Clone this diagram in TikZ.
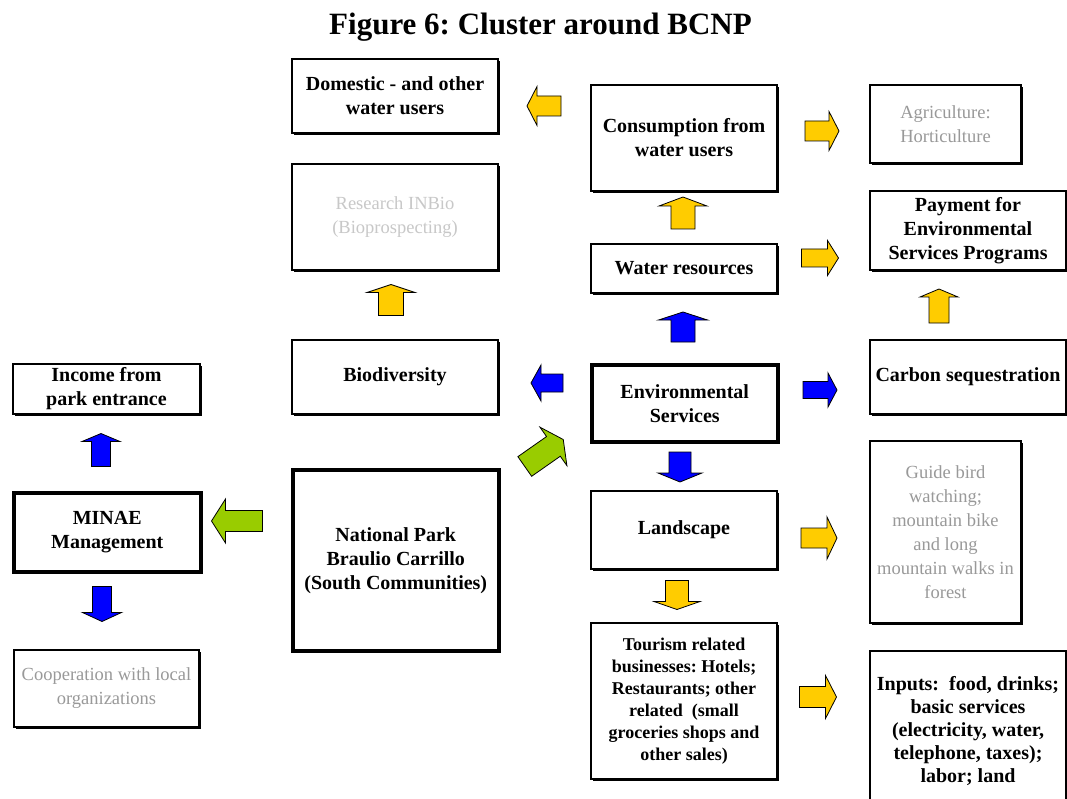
\documentclass[tikz,border=0pt]{standalone}
\usepackage{fontspec}
\setmainfont{Liberation Serif}
\usetikzlibrary{shadows}

\definecolor{jaune}{HTML}{FFCC00}
\definecolor{bleu}{HTML}{0000FF}
\definecolor{vert}{HTML}{99CC00}
\definecolor{gris}{HTML}{999999}
\definecolor{grisclair}{HTML}{C8C8C8}

\tikzset{
  boite/.style={draw, fill=white, line width=2pt, align=center, inner sep=2pt, anchor=north west,
    drop shadow={shadow xshift=2pt, shadow yshift=-2pt, opacity=1, fill=black},
    font=\fontsize{20}{24}\selectfont\bfseries},
  boiteg/.style={boite, line width=3.5pt},
  pale/.style={font=\fontsize{18.5}{24}\selectfont, text=gris},
  fleche/.style={draw=black, line width=0.8pt},
  pics/bloc/.style args={#1/#2/#3/#4}{code={%longueur/corps/tete/long. tete
    \path[pic actions] (-#1/2,-#2/2) -- (#1/2-#4,-#2/2) -- (#1/2-#4,-#3/2) -- (#1/2,0)
      -- (#1/2-#4,#3/2) -- (#1/2-#4,#2/2) -- (-#1/2,#2/2) -- cycle;}}
}

\begin{document}
\frenchspacing
\begin{tikzpicture}[x=1pt,y=-1pt]
\useasboundingbox (0,0) rectangle (1067,799);

\node[anchor=base, font=\fontsize{31}{36}\selectfont\bfseries] (titre) at (540.5,35) {Figure 6: Cluster around BCNP};

%colonne de gauche
\node[boite, minimum width=187pt, minimum height=50pt] (entree) at (12,363) {Income from\\park entrance};
\node[boiteg, minimum width=187pt, minimum height=79pt] (minae) at (12,491) {MINAE\\Management};
\node[boite, pale, minimum width=185pt, minimum height=77pt] (coop) at (13,649) {Cooperation with local\\organizations};

%colonne 2
\node[boite, minimum width=206pt, minimum height=74pt] (dom) at (291,58) {Domestic - and other\\water users};
\node[boite, pale, text=grisclair, minimum width=206pt, minimum height=106pt] (rech) at (291,163) {Research INBio\\(Bioprospecting)};
\node[boite, minimum width=206pt, minimum height=74pt] (bio) at (291,339) {Biodiversity};
\node[boiteg, minimum width=206pt, minimum height=181pt] (parc) at (291,468) {National Park\\Braulio Carrillo\\(South Communities)};

%colonne 3
\node[boite, minimum width=186pt, minimum height=106pt] (conso) at (590,84) {Consumption from\\water users};
\node[boite, minimum width=186pt, minimum height=49pt] (eau) at (590,243) {Water resources};
\node[boiteg, minimum width=186pt, minimum height=77pt] (env) at (590,363) {Environmental\\Services};
\node[boite, minimum width=186pt, minimum height=78pt] (paysage) at (590,490) {Landscape};
\node[boite, font=\fontsize{18}{22}\selectfont\bfseries, minimum width=186pt, minimum height=156pt] (tour) at (590,622) {Tourism related\\businesses: Hotels;\\Restaurants; other\\related\ \ (small\\groceries shops and\\other sales)};

%colonne de droite
\node[boite, pale, minimum width=151pt, minimum height=78pt] (agri) at (869,84) {Agriculture:\\Horticulture};
\node[boite, minimum width=196pt, minimum height=79pt] (paie) at (869,190) {Payment for\\Environmental\\Services Programs};
\node[boite, minimum width=196pt, minimum height=74pt] (carbone) at (869,339) {Carbon sequestration};
\node[boite, pale, minimum width=151pt, minimum height=182pt] (guide) at (869,440) {Guide bird\\watching;\\mountain bike\\and long\\mountain walks in\\forest};
\node[boite, font=\fontsize{20}{23}\selectfont\bfseries, minimum width=196pt, minimum height=160pt] (intrants) at (869,650) {Inputs:\ \ food, drinks;\\basic services\\(electricity, water,\\telephone, taxes);\\labor; land};

%les fleches
\pic[fleche, fill=jaune, rotate=180] at (544,106) {bloc=34/20/39/10};
\pic[fleche, fill=jaune] at (822,131) {bloc=34/20/39/10};
\pic[fleche, fill=jaune, rotate=90] at (683,213) {bloc=32/24/48/9};
\pic[fleche, fill=jaune] at (820,258) {bloc=37/18/35/11};
\pic[fleche, fill=jaune, rotate=90] at (391,300) {bloc=31/25/48/8};
\pic[fleche, fill=jaune, rotate=90] at (939,306) {bloc=34/20/38/8};
\pic[fleche, fill=bleu, rotate=90] at (683,327) {bloc=30/24/49/8};
\pic[fleche, fill=bleu, rotate=180] at (547,383) {bloc=32/18/36/10};
\pic[fleche, fill=bleu] at (820,390) {bloc=34/17/34/9};
\pic[fleche, fill=bleu, rotate=90] at (101,450) {bloc=33/19/38/8};
\pic[fleche, fill=vert, rotate=35] at (544,453) {bloc=47/24/47/12};
\pic[fleche, fill=bleu, rotate=-90] at (680,467) {bloc=30/22/44/9};
\pic[fleche, fill=vert, rotate=180] at (237,521) {bloc=51/21/44/14};
\pic[fleche, fill=jaune] at (819,538) {bloc=36/20/42/10};
\pic[fleche, fill=jaune, rotate=-90] at (677,595) {bloc=29/23/46/8};
\pic[fleche, fill=bleu, rotate=-90] at (102,604) {bloc=35/19/39/9};
\pic[fleche, fill=jaune] at (818,697) {bloc=37/21/43/11};

\end{tikzpicture}
\end{document}
